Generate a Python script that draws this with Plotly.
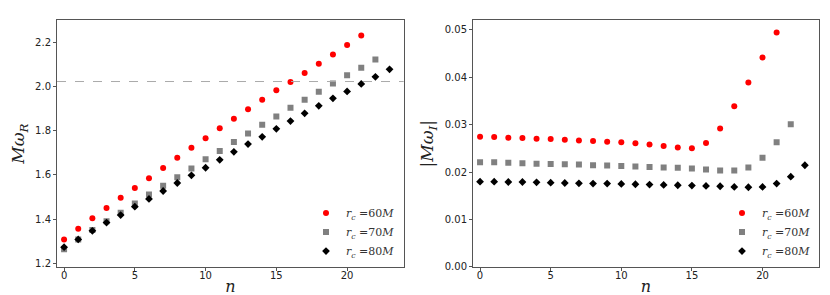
import plotly.graph_objects as go

n60 = list(range(22))
n70 = list(range(23))
n80 = list(range(24))

wr60 = [1.308, 1.356, 1.404, 1.450, 1.496, 1.540, 1.585, 1.631, 1.677, 1.722, 1.766,
        1.811, 1.854, 1.897, 1.939, 1.982, 2.020, 2.060, 2.102, 2.144, 2.187, 2.230]
wr70 = [1.264, 1.308, 1.350, 1.390, 1.429, 1.470, 1.511, 1.551, 1.589, 1.629, 1.670,
        1.708, 1.748, 1.787, 1.826, 1.864, 1.903, 1.940, 1.976, 2.013, 2.050, 2.084, 2.121]
wr80 = [1.273, 1.308, 1.347, 1.384, 1.418, 1.456, 1.491, 1.527, 1.563, 1.598, 1.632,
        1.668, 1.704, 1.739, 1.772, 1.808, 1.843, 1.878, 1.912, 1.946, 1.977, 2.011, 2.043, 2.077]

wi60 = [0.02746, 0.02739, 0.02725, 0.02718, 0.02704, 0.02697, 0.02683, 0.02669, 0.02656,
        0.02642, 0.02628, 0.02607, 0.02580, 0.02552, 0.02517, 0.02503, 0.02614, 0.02918,
        0.03389, 0.03893, 0.04419, 0.04945]
wi70 = [0.02206, 0.02206, 0.02199, 0.02185, 0.02178, 0.02172, 0.02165, 0.02158, 0.02144,
        0.02137, 0.02130, 0.02116, 0.02109, 0.02095, 0.02089, 0.02075, 0.02054, 0.02033,
        0.02033, 0.02095, 0.02303, 0.02628, 0.03008]
wi80 = [0.01798, 0.01798, 0.01791, 0.01791, 0.01784, 0.01777, 0.01770, 0.01763, 0.01757,
        0.01757, 0.01750, 0.01743, 0.01736, 0.01729, 0.01722, 0.01715, 0.01708, 0.01701,
        0.01687, 0.01680, 0.01687, 0.01757, 0.01902, 0.02144]

dashed_level = 2.022

labels = ["<i>r<sub>c</sub></i> =60<i>M</i>", "<i>r<sub>c</sub></i> =70<i>M</i>", "<i>r<sub>c</sub></i> =80<i>M</i>"]

series = [
    (n60, wr60, wi60, "red", "circle", 6),
    (n70, wr70, wi70, "#808080", "square", 6),
    (n80, wr80, wi80, "black", "diamond", 6),
]

fig = go.Figure()
for i, (nn, wr, wi, col, sym, sz) in enumerate(series):
    fig.add_trace(go.Scatter(x=nn, y=wr, mode="markers", name=labels[i],
                             marker=dict(color=col, symbol=sym, size=sz, line=dict(width=0)),
                             xaxis="x", yaxis="y", legend="legend", showlegend=True))
    fig.add_trace(go.Scatter(x=nn, y=wi, mode="markers", name=labels[i],
                             marker=dict(color=col, symbol=sym, size=sz, line=dict(width=0)),
                             xaxis="x2", yaxis="y2", legend="legend2", showlegend=True))

fig.add_shape(type="line", xref="x domain", yref="y", x0=0, x1=1,
              y0=dashed_level, y1=dashed_level,
              line=dict(color="#aaaaaa", width=1, dash="dash"))

axis_common = dict(showgrid=False, zeroline=False, showline=True, linecolor="#555555",
                   linewidth=1, mirror=True, ticks="outside", ticklen=3, tickcolor="#555555",
                   tickfont=dict(family="DejaVu Sans", size=10, color="#222222"))
title_font = dict(family="DejaVu Serif", size=17, color="#222222")
xtitle_font = dict(family="DejaVu Serif", size=16, color="#222222")

fig.update_layout(
    width=830, height=295,
    margin=dict(l=0, r=0, t=0, b=0),
    paper_bgcolor="white", plot_bgcolor="white",
    xaxis=dict(domain=[49/830, 395.7/830], range=[-0.5, 24], tickvals=[0, 5, 10, 15, 20],
               ticklabelstandoff=-4,
               title=dict(text="<i>n</i>", font=xtitle_font, standoff=0), anchor="y", **axis_common),
    yaxis=dict(domain=[1-263.3/295, 1-12.7/295], range=[1.184, 2.298],
               tickvals=[1.2, 1.4, 1.6, 1.8, 2.0, 2.2], tickformat=".1f",
               title=dict(text="<i>Mω<sub>R</sub></i>", font=title_font, standoff=6), anchor="x", **axis_common),
    xaxis2=dict(domain=[465/830, 811/830], range=[-0.5, 24], tickvals=[0, 5, 10, 15, 20],
                ticklabelstandoff=-4,
                title=dict(text="<i>n</i>", font=xtitle_font, standoff=0), anchor="y2", **axis_common),
    yaxis2=dict(domain=[1-263.3/295, 1-12.7/295], range=[0, 0.052],
                tickvals=[0, 0.01, 0.02, 0.03, 0.04, 0.05], tickformat=".2f",
                title=dict(text="|<i>Mω<sub>I</sub></i>|", font=title_font, standoff=6), anchor="x2", **axis_common),
    legend=dict(x=392/830, y=1-262/295, xanchor="right", yanchor="bottom",
                bgcolor="rgba(0,0,0,0)", font=dict(family="DejaVu Serif", size=11, color="#333333"),
                itemwidth=30, tracegroupgap=0),
    legend2=dict(x=808/830, y=1-262/295, xanchor="right", yanchor="bottom",
                 bgcolor="rgba(0,0,0,0)", font=dict(family="DejaVu Serif", size=11, color="#333333"),
                 itemwidth=30, tracegroupgap=0),
)

fig.write_html("out.html")
